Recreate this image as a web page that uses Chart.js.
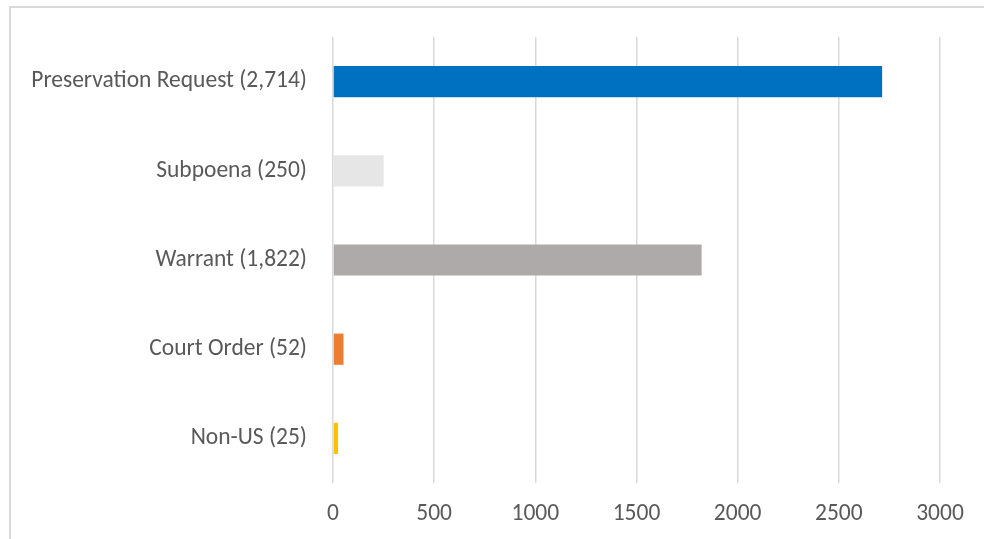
<!DOCTYPE html>
<html>
<head>
<meta charset="utf-8">
<script src="https://cdn.jsdelivr.net/npm/chart.js@4"></script>
<style>
  html, body { margin: 0; padding: 0; background: #ffffff; overflow: hidden; }
  #wrap { position: relative; width: 984px; height: 539px; }
  #frame { position: absolute; left: 9px; top: 6px; width: 1100px; height: 700px; border: 2px solid #d9d9d9; box-sizing: border-box; }
  #c { position: absolute; left: 0; top: 0; }
</style>
</head>
<body>
<div id="wrap">
  <div id="frame"></div>
  <canvas id="c" width="984" height="539"></canvas>
</div>
<script>
const categories = ["Preservation Request (2,714)", "Subpoena (250)", "Warrant (1,822)", "Court Order (52)", "Non-US (25)"];
const values = [2714, 250, 1822, 52, 25];
const barColors = ["#0070C0", "#E7E6E6", "#AEAAAA", "#ED7D31", "#FFC000"];
const xMin = 0, xMax = 3000, xStep = 500;

const fontFamily = "Carlito, Calibri, Lato, 'Noto Sans', sans-serif";

new Chart(document.getElementById('c'), {
  type: 'bar',
  data: {
    labels: categories,
    datasets: [{
      data: values,
      backgroundColor: barColors,
      borderWidth: 0,
      categoryPercentage: 1.0,
      barPercentage: 0.35
    }]
  },
  options: {
    indexAxis: 'y',
    responsive: false,
    animation: false,
    devicePixelRatio: 1,
    layout: { padding: { left: 0, right: 44, top: 37, bottom: 0 } },
    plugins: { legend: { display: false }, tooltip: { enabled: false } },
    scales: {
      x: {
        min: xMin, max: xMax,
        ticks: { stepSize: xStep, color: '#595959', font: { family: fontFamily, size: 23.5 }, padding: 17,
                 callback: (v) => String(v) },
        grid: { color: '#d9d9d9', lineWidth: 1.5, drawTicks: false },
        border: { display: false },
        afterFit: (s) => { s.height = 56; }
      },
      y: {
        ticks: { color: '#595959', font: { family: fontFamily, size: 23.5 }, padding: 26 },
        grid: { display: false, drawTicks: false },
        border: { display: false },
        afterFit: (s) => { s.width = 333; s.paddingTop = 0; s.paddingBottom = 0; }
      }
    }
  }
});
</script>
</body>
</html>
